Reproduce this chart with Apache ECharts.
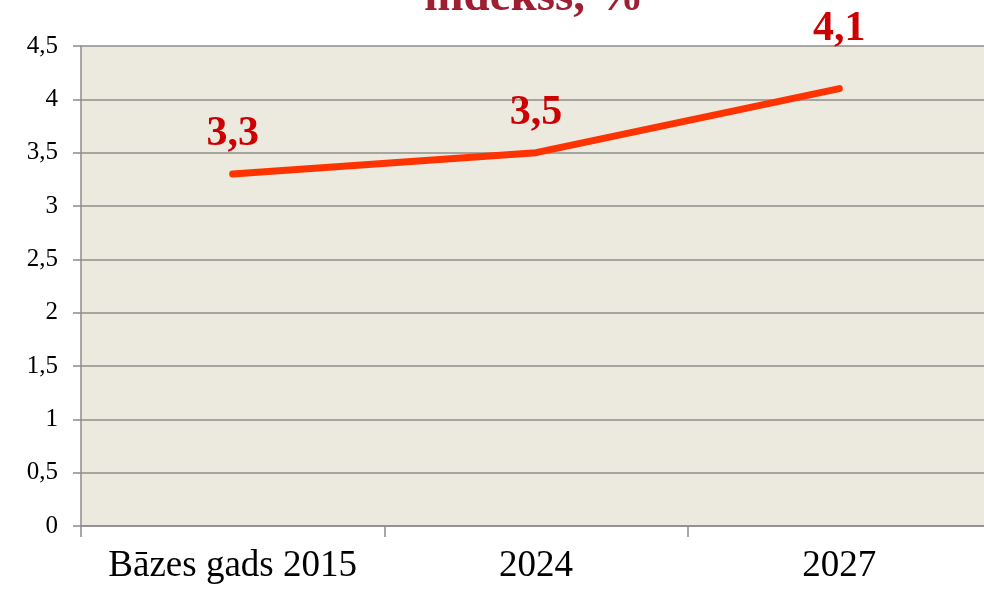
<!DOCTYPE html>
<html lang="lv">
<head>
    <meta charset="UTF-8">
    <title>indekss, %</title>
    <style>
        html,body{margin:0;padding:0;background:#fff;}
        #chart{width:984px;height:590px;}
    </style>
</head>
<body>
<div id="chart"></div>
<script src="https://cdn.jsdelivr.net/npm/echarts@6/dist/echarts.min.js"></script>
<script>
    let titleText = 'indekss, %';
    let categories = ['Bāzes gads 2015', '2024', '2027'];
    let values = [3.3, 3.5, 4.1];
    let yTicks = [0, 0.5, 1, 1.5, 2, 2.5, 3, 3.5, 4, 4.5];

    function comma(v){
        return String(v).replace('.', ',');
    }

    let myChart = echarts.init(document.getElementById('chart'));
    let option = {
        animation: false,
        title: {
            text: titleText,
            left: 529,
            textAlign: 'center',
            top: -31,
            textStyle: {
                fontFamily: 'Liberation Serif',
                fontSize: 47,
                fontWeight: 'bold',
                color: '#9e1f32'
            }
        },
        grid: {left: 81, top: 46, right: -7, bottom: 64, containLabel: false, outerBoundsMode: 'none'},
        xAxis: {
            type: 'category',
            data: categories,
            boundaryGap: true,
            axisLine: {lineStyle: {color: '#8c8c8c', width: 1.5}},
            axisTick: {show: true, interval: 0, length: 11, lineStyle: {color: '#8c8c8c', width: 1.5}},
            axisLabel: {
                interval: 0,
                margin: 22,
                fontFamily: 'Liberation Serif',
                fontSize: 37,
                color: '#000'
            }
        },
        yAxis: {
            type: 'value',
            min: yTicks[0],
            max: yTicks[yTicks.length - 1],
            interval: 0.5,
            axisLine: {show: true, lineStyle: {color: '#8c8c8c', width: 1.5}},
            axisTick: {show: true, length: 8, lineStyle: {color: '#8c8c8c', width: 1.5}},
            splitLine: {lineStyle: {color: '#8c8c8c', width: 1.5}},
            splitArea: {show: false},
            axisLabel: {
                margin: 23,
                fontFamily: 'Liberation Serif',
                fontSize: 25,
                color: '#000',
                formatter: comma
            }
        },
        graphic: [],
        series: [{
            type: 'line',
            data: values.map(function (v, i) {
                let item = {value: v};
                if (i === values.length - 1) item.label = {offset: [0, -20]};
                return item;
            }),
            symbol: 'circle',
            symbolSize: 1,
            showSymbol: true,
            itemStyle: {color: 'rgba(0,0,0,0)'},
            smooth: false,
            lineStyle: {color: '#ff3300', width: 7, cap: 'round', join: 'round'},
            label: {
                show: true,
                position: 'top',
                distance: 18,
                fontFamily: 'Liberation Serif',
                fontSize: 42,
                fontWeight: 'bold',
                color: '#cc0000',
                formatter: function (p) { return comma(p.value); }
            }
        }]
    };
    myChart.setOption(option);

    // plot area fill
    let r = myChart.getModel().getComponent('grid').coordinateSystem.getRect();
    myChart.setOption({
        graphic: [{
            type: 'rect',
            z: -1,
            silent: true,
            shape: {x: r.x, y: r.y, width: r.width, height: r.height},
            style: {fill: '#ece9df'}
        }]
    });
</script>
</body>
</html>
